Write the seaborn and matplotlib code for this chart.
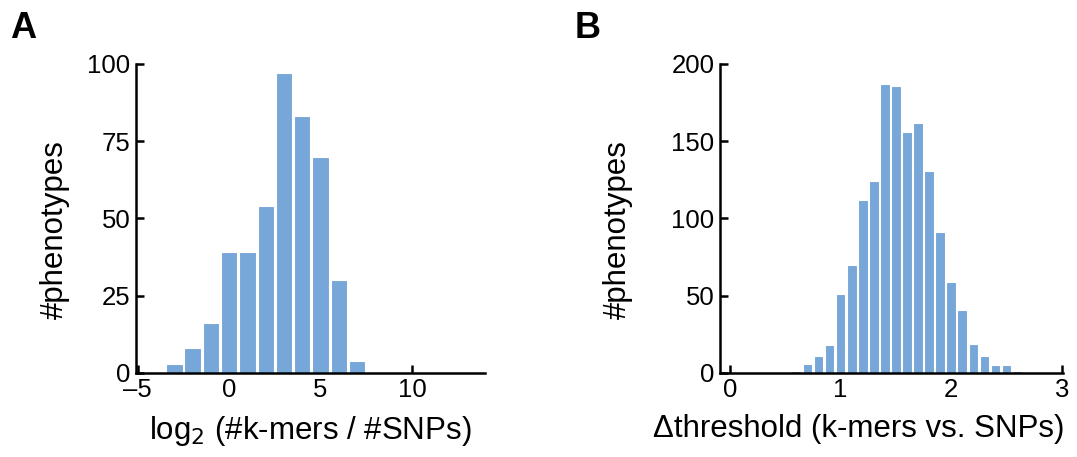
import numpy as np
import pandas as pd
import seaborn as sns
import matplotlib.pyplot as plt

# -----------------------------
# Data
# -----------------------------
# A: log2(#k-mers / #SNPs), bins of width 1 centred on integers
log_ratio_bins = [-3, -2, -1, 0, 1, 2, 3, 4, 5, 6, 7]
log_ratio_counts = [3, 8, 16, 39, 39, 54, 97, 83, 70, 30, 4]

# B: delta threshold, bins of width 0.1
delta_bins = [0.6, 0.7, 0.8, 0.9, 1.0, 1.1, 1.2, 1.3, 1.4, 1.5, 1.6,
              1.7, 1.8, 1.9, 2.0, 2.1, 2.2, 2.3, 2.4, 2.5, 2.6]
delta_counts = [1, 6, 11, 18, 51, 70, 112, 124, 187, 186, 156,
                162, 131, 91, 59, 41, 19, 11, 5, 5, 1]

bar_color = "#77A6D8"

sns.set_theme(style="ticks")
plt.rcParams["font.family"] = ["Liberation Sans", "DejaVu Sans"]
plt.rcParams["axes.linewidth"] = 1.8
plt.rcParams["xtick.major.width"] = 1.8
plt.rcParams["ytick.major.width"] = 1.8
plt.rcParams["text.color"] = "black"
plt.rcParams["axes.labelcolor"] = "black"

fig = plt.figure(figsize=(10.77, 4.57), dpi=100)
ax_a = fig.add_axes([0.1263, 0.184, 0.324, 0.676])
ax_b = fig.add_axes([0.6685, 0.184, 0.3185, 0.676])

df_a = pd.DataFrame({"x": log_ratio_bins, "n": log_ratio_counts})
sns.histplot(data=df_a, x="x", weights="n", discrete=True, shrink=0.9,
             color=bar_color, alpha=1, edgecolor="white", linewidth=0.8, ax=ax_a)

df_b = pd.DataFrame({"x": delta_bins, "n": delta_counts})
sns.histplot(data=df_b, x="x", weights="n", binwidth=0.1, binrange=(0.55, 2.65),
             shrink=0.88, color=bar_color, alpha=1, edgecolor="white",
             linewidth=0.8, ax=ax_b)

# -----------------------------
# Axes styling
# -----------------------------
ax_a.set_xlim(-5.1, 14)
ax_a.set_ylim(0, 100)
ax_a.set_xticks([-5, 0, 5, 10])
ax_a.set_xticklabels(["\u20135", "0", "5", "10"])
ax_a.set_yticks([0, 25, 50, 75, 100])
ax_a.set_xlabel("log$_2$ (#k-mers / #SNPs)", fontsize=22.5, labelpad=8)

ax_b.set_xlim(-0.09, 3.01)
ax_b.set_ylim(0, 200)
ax_b.set_xticks([0, 1, 2, 3])
ax_b.set_yticks([0, 50, 100, 150, 200])
# label runs past the axis on the left, flush with the right edge
ax_b.set_xlabel("\u0394threshold (k-mers vs. SNPs)", fontsize=22.5, labelpad=8,
                loc="right")
ax_b.xaxis.label.set_x(1.005)

for ax in (ax_a, ax_b):
    sns.despine(ax=ax)
    ax.set_ylabel("#phenotypes", fontsize=22.5)
    ax.tick_params(direction="in", length=6, labelsize=18.5, colors="black",
                   labelcolor="black", pad=4)
    for s in ("left", "bottom"):
        ax.spines[s].set_color("black")

ax_a.yaxis.set_label_coords(-0.19, 0.463)
ax_b.yaxis.set_label_coords(-0.255, 0.463)

fig.text(0.009, 0.917, "A", fontsize=26, fontweight="bold", color="black")
fig.text(0.534, 0.917, "B", fontsize=26, fontweight="bold", color="black")

plt.savefig("out.png", dpi=100)
